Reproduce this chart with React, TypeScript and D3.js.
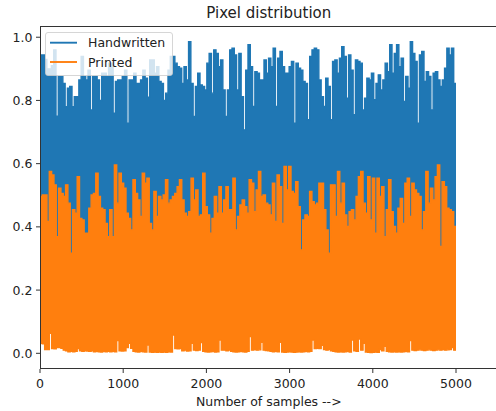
import React from "react";
import * as d3 from "d3";

// Per-column envelope of each 5000-sample series (max / min over each column of samples)
const sampleCount = 5000;
const xTicks = [0, 1000, 2000, 3000, 4000, 5000];
const yTicks = [0.0, 0.2, 0.4, 0.6, 0.8, 1.0];
const seriesNames = ["Handwritten", "Printed"];

const handwrittenMax = [
  0.944, 0.944, 0.93, 0.9, 0.9, 0.91, 0.96, 0.75, 0.876, 0.876,
  0.854, 0.78, 0.839, 0.844, 0.78, 0.812, 0.812, 0.865, 0.939, 0.876,
  0.865, 0.896, 0.77, 0.876, 0.876, 0.865, 0.8, 0.886, 0.886, 0.876,
  0.918, 0.918, 0.76, 0.86, 0.865, 0.865, 0.876, 0.896, 0.728, 0.865,
  0.865, 0.886, 0.854, 0.854, 0.865, 0.896, 0.87, 0.81, 0.928, 0.928,
  0.886, 0.907, 0.86, 0.854, 0.8, 0.823, 0.896, 0.939, 0.939,
  0.918, 0.907, 0.902, 0.854, 0.907, 0.865, 0.986, 0.854, 0.749, 0.844,
  0.886, 0.849, 0.844, 0.833, 0.918, 0.949, 0.823, 0.96, 0.949, 0.907,
  0.928, 0.833, 0.749, 0.833, 0.96, 0.965, 0.944, 0.833, 0.949, 0.812,
  0.707, 0.896, 0.976, 0.907, 0.781, 0.891, 0.886, 0.865, 0.865, 0.928,
  0.886, 0.934, 0.907, 0.965, 0.781, 0.934, 0.955, 0.907, 0.886, 0.886,
  0.907, 0.923, 0.728, 0.918, 0.902, 0.896, 0.86, 0.854, 0.739, 0.939,
  0.96, 0.965,
  0.96, 0.865, 0.812, 0.781, 0.87, 0.844, 0.739, 0.923, 0.928, 0.886,
  0.934, 0.97, 0.939, 0.807, 0.944, 0.896, 0.755, 0.928, 0.923, 0.918,
  0.77, 0.807, 0.87, 0.865, 0.886, 0.802, 0.854, 0.881, 0.833, 0.865,
  0.918, 0.891, 0.976, 0.886, 0.949, 0.976, 0.907, 0.934, 0.797, 0.876,
  0.839, 0.986, 0.949, 0.923, 0.728, 0.944, 0.955, 0.86, 0.891, 0.876,
  0.77, 0.886, 0.891, 0.865, 0.844, 0.865, 0.902, 0.965, 0.944, 0.965,
  0.854,
];
// lowest handwritten value; the band below the printed series is hidden
const handwrittenFloor = 0.3;

const printedMax = [
  0.496, 0.501, 0.501, 0.417, 0.575, 0.564, 0.533, 0.369, 0.522, 0.506,
  0.496, 0.533, 0.475, 0.317, 0.454, 0.443, 0.559, 0.427, 0.422, 0.38,
  0.38, 0.459, 0.501, 0.506, 0.57, 0.496, 0.459, 0.454, 0.411, 0.369,
  0.454, 0.369, 0.596, 0.475, 0.57, 0.538, 0.522, 0.443, 0.427, 0.39,
  0.549, 0.506, 0.485, 0.433, 0.57, 0.538, 0.554, 0.411, 0.39, 0.512,
  0.433, 0.496, 0.485, 0.501, 0.549, 0.475, 0.485, 0.496, 0.506, 0.527,
  0.549, 0.485, 0.443, 0.433, 0.448, 0.554, 0.485, 0.517, 0.433, 0.438,
  0.57, 0.464, 0.438, 0.38, 0.427, 0.496, 0.443, 0.527, 0.443, 0.485,
  0.527, 0.454, 0.454, 0.554, 0.39, 0.433, 0.469, 0.485, 0.464, 0.443,
  0.549, 0.538, 0.448, 0.517, 0.575, 0.496, 0.501, 0.475, 0.469, 0.438,
  0.538, 0.417, 0.564, 0.527, 0.411, 0.591, 0.517, 0.591, 0.512, 0.506,
  0.543, 0.464, 0.327, 0.422, 0.438, 0.433, 0.512, 0.48, 0.469,
  0.475, 0.538, 0.538, 0.454, 0.39, 0.317, 0.533, 0.533, 0.433, 0.575,
  0.475, 0.538, 0.438, 0.401, 0.448, 0.454, 0.422, 0.496, 0.559, 0.575,
  0.475, 0.443, 0.559, 0.422, 0.554, 0.38, 0.554, 0.496, 0.527, 0.369,
  0.454, 0.549, 0.448, 0.401, 0.38, 0.459, 0.49, 0.411, 0.538, 0.554,
  0.433, 0.538, 0.517, 0.506, 0.496, 0.39, 0.448, 0.575, 0.475, 0.522,
  0.485, 0.559, 0.596, 0.338, 0.543, 0.527, 0.459, 0.454, 0.448, 0.401,
];

const printedMin = [
  0.032, 0.03, 0.012, 0.012, 0.063, 0.015, 0.014, 0.018, 0.018, 0.016,
  0.01, 0.008, 0.005, 0.006, 0.005, 0.006, 0.015, 0.008, 0.006, 0.008,
  0.007, 0.006, 0.008, 0.005, 0.006, 0.005, 0.004, 0.006, 0.005, 0.006,
  0.005, 0.006, 0.005, 0.04, 0.008, 0.007, 0.008, 0.018, 0.032, 0.016,
  0.006, 0.005, 0.004, 0.006, 0.005, 0.004, 0.026, 0.004, 0.003, 0.004,
  0.003, 0.004, 0.003, 0.004, 0.003, 0.005, 0.004, 0.058, 0.015, 0.014,
  0.015, 0.008, 0.01, 0.007, 0.008, 0.032, 0.01, 0.009, 0.01, 0.034,
  0.006, 0.005, 0.004, 0.005, 0.006, 0.004, 0.005, 0.042, 0.01, 0.01,
  0.008, 0.01, 0.006, 0.005, 0.004, 0.005, 0.006, 0.005, 0.004, 0.006,
  0.053, 0.01, 0.012, 0.01, 0.011, 0.035, 0.01, 0.009, 0.008, 0.006,
  0.005, 0.006, 0.005, 0.035, 0.004, 0.003, 0.004, 0.005, 0.004, 0.003,
  0.004, 0.005, 0.004, 0.005, 0.006, 0.005, 0.006, 0.042, 0.015, 0.016,
  0.015, 0.025, 0.012, 0.01, 0.012, 0.008, 0.006, 0.005, 0.004, 0.005,
  0.004, 0.005, 0.006, 0.004, 0.042, 0.008, 0.006, 0.045, 0.01, 0.032,
  0.004, 0.003, 0.002, 0.003, 0.004, 0.003, 0.012, 0.008, 0.022, 0.006,
  0.005, 0.004, 0.005, 0.004, 0.005, 0.004, 0.005, 0.006, 0.005, 0.04,
  0.01, 0.009, 0.01, 0.011, 0.01, 0.009, 0.01, 0.011, 0.01, 0.009,
  0.01, 0.011, 0.01, 0.012, 0.01, 0.011, 0.012, 0.018, 0.01,
];

const W = 496;
const H = 411;
const plot = { left: 40, top: 26, right: 497.6, bottom: 368 };
const BLUE = "#1f77b4";
const ORANGE = "#ff7f0e";
const FONT = "'DejaVu Sans', sans-serif";
const INK = "#222";
const LINE_W = 1.4;

type Pt = { s: number; hi: number; lo: number };

function envelope(maxArr: number[], minOf: (i: number) => number): Pt[] {
  const n = maxArr.length;
  const pts: Pt[] = maxArr.map((v, i) => ({ s: (i * sampleCount) / n, hi: v, lo: minOf(i) }));
  // closing point so the last column keeps its width
  pts.push({ s: sampleCount, hi: maxArr[n - 1], lo: minOf(n - 1) });
  return pts;
}

export default function App() {
  const x = d3.scaleLinear().domain([0, 5500]).range([plot.left, plot.right]);
  const y = d3.scaleLinear().domain([-0.0465, 1.0355]).range([plot.bottom, plot.top]);

  const area = d3
    .area<Pt>()
    .curve(d3.curveStepAfter)
    .x((d) => x(d.s))
    .y0((d) => y(d.lo))
    .y1((d) => y(d.hi));
  const topEdge = d3
    .line<Pt>()
    .curve(d3.curveStepAfter)
    .x((d) => x(d.s))
    .y((d) => y(d.hi));
  const bottomEdge = d3
    .line<Pt>()
    .curve(d3.curveStepAfter)
    .x((d) => x(d.s))
    .y((d) => y(d.lo));

  const handwritten = envelope(handwrittenMax, () => handwrittenFloor);
  const printed = envelope(printedMax, (i) => printedMin[Math.min(i, printedMin.length - 1)]);

  const legendRows = [
    { name: seriesNames[0], color: BLUE, y: 42.7 },
    { name: seriesNames[1], color: ORANGE, y: 62 },
  ];

  return (
    <svg
      width={W}
      height={H}
      style={{ position: "fixed", left: 0, top: 0, background: "#fff" }}
      fontFamily={FONT}
    >
      <defs>
        <clipPath id="plot-clip">
          <rect x={plot.left} y={plot.top} width={plot.right - plot.left} height={plot.bottom - plot.top} />
        </clipPath>
      </defs>
      <rect width={W} height={H} fill="#fff" />

      <g clipPath="url(#plot-clip)">
        <path d={area(handwritten) || ""} fill={BLUE} />
        <path d={topEdge(handwritten) || ""} fill="none" stroke={BLUE} strokeWidth={LINE_W} />
        <path d={area(printed) || ""} fill={ORANGE} />
        <path d={topEdge(printed) || ""} fill="none" stroke={ORANGE} strokeWidth={LINE_W} />
        <path d={bottomEdge(printed) || ""} fill="none" stroke={ORANGE} strokeWidth={LINE_W} />
      </g>

      {/* spines */}
      <g stroke="#333" strokeWidth={1} fill="none">
        <line x1={plot.left} x2={plot.right} y1={plot.top + 0.5} y2={plot.top + 0.5} />
        <line x1={plot.left} x2={plot.right} y1={plot.bottom + 0.5} y2={plot.bottom + 0.5} />
        <line x1={plot.left + 0.5} x2={plot.left + 0.5} y1={plot.top} y2={plot.bottom + 1} />
        <line x1={plot.right - 0.5} x2={plot.right - 0.5} y1={plot.top} y2={plot.bottom + 1} />
      </g>

      {/* x axis */}
      {xTicks.map((t) => (
        <g key={`x${t}`}>
          <line x1={x(t)} x2={x(t)} y1={plot.bottom + 1} y2={plot.bottom + 5} stroke="#333" strokeWidth={1} />
          <text x={x(t)} y={388.3} textAnchor="middle" fontSize={12.5} fill={INK}>
            {t}
          </text>
        </g>
      ))}

      {/* y axis */}
      {yTicks.map((t) => (
        <g key={`y${t}`}>
          <line x1={plot.left - 4} x2={plot.left} y1={y(t)} y2={y(t)} stroke="#333" strokeWidth={1} />
          <text x={32.5} y={y(t)} dy="0.36em" textAnchor="end" fontSize={12.5} fill={INK}>
            {t.toFixed(1)}
          </text>
        </g>
      ))}

      <text x={(plot.left + plot.right) / 2} y={17.5} textAnchor="middle" fontSize={15} fill={INK}>
        Pixel distribution
      </text>
      <text x={(plot.left + plot.right) / 2} y={405.5} textAnchor="middle" fontSize={12.5} fill={INK}>
        Number of samples --&gt;
      </text>

      {/* legend */}
      <g>
        <rect
          x={45.5}
          y={32.5}
          width={127}
          height={43}
          rx={2.5}
          fill="#fff"
          fillOpacity={0.8}
          stroke="#ccc"
          strokeOpacity={0.8}
          strokeWidth={1}
        />
        {legendRows.map((r) => (
          <g key={r.name}>
            <line x1={50} x2={77} y1={r.y} y2={r.y} stroke={r.color} strokeWidth={1.9} />
            <text x={88} y={r.y} dy="0.36em" fontSize={12.5} fill={INK}>
              {r.name}
            </text>
          </g>
        ))}
      </g>
    </svg>
  );
}
